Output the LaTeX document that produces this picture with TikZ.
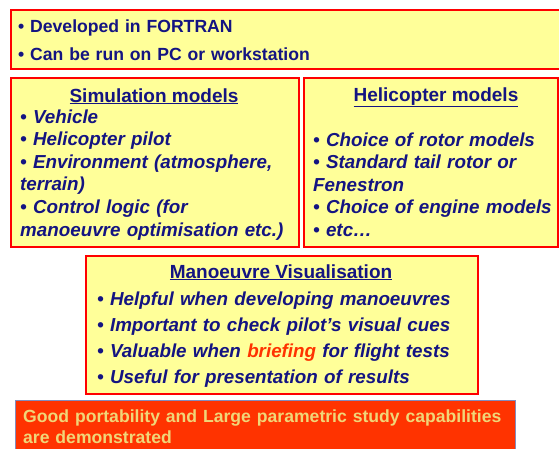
\documentclass[tikz,border=0pt]{standalone}
\usepackage{fontspec}
\setmainfont{Liberation Sans}
\usetikzlibrary{positioning}
\definecolor{navy}{RGB}{20,20,130}
\definecolor{paleyellow}{RGB}{255,255,153}
\definecolor{alertred}{RGB}{255,51,0}
\definecolor{sandtext}{RGB}{240,214,120}
\definecolor{bluegray}{RGB}{130,140,190}

\begin{document}
\begin{tikzpicture}[x=1pt,y=-1pt,
    panel/.style={draw=red,line width=1.5pt,fill=paleyellow,inner sep=0pt,anchor=north west},
    heading/.style={text=navy,anchor=base,inner sep=0pt,font=\bfseries\fontsize{19}{22}\selectfont},
    items/.style={text=navy,anchor=base west,inner sep=0pt,align=left,text width=290pt}]
  \useasboundingbox (0,0) rectangle (559,448);

  % boxes
  \node[panel,minimum width=560pt,minimum height=59pt] (general) at (10,9) {};
  \node[panel,minimum width=288pt,minimum height=169pt] (sim) at (10,77) {};
  \node[panel,minimum width=254pt,minimum height=169pt] (heli) at (303,77) {};
  \node[panel,minimum width=392pt,minimum height=138pt] (visu) at (85,255) {};
  \node[anchor=north west,fill=alertred,draw=bluegray,line width=0.6pt,inner sep=0pt,
        minimum width=500pt,minimum height=60pt] (result) at (15,400) {};

  % texts
  \node[items,font=\bfseries\fontsize{17.6}{28}\selectfont,text width=530pt] (generaltxt) at (18,32.5)
    {• Developed in FORTRAN\\• Can be run on PC or workstation};

  \node[heading] (simhead) at (154,102) {\underline{Simulation models}};
  \node[items,font=\bfseries\itshape\fontsize{18.8}{22.6}\selectfont] (simtxt) at (20,123)
    {• Vehicle\\• Helicopter pilot\\• Environment (atmosphere,\\terrain)\\• Control logic (for\\manoeuvre optimisation etc.)};

  \node[heading] (helihead) at (436,101) {\underline{Helicopter models}};
  \node[items,font=\bfseries\itshape\fontsize{18.8}{22.6}\selectfont,text width=250pt] (helitxt) at (313,146)
    {• Choice of rotor models\\• Standard tail rotor or\\Fenestron\\• Choice of engine models\\• etc…};

  \node[heading] (visuhead) at (281,278) {\underline{Manoeuvre Visualisation}};
  \node[items,font=\bfseries\itshape\fontsize{18.8}{26}\selectfont,text width=385pt] (visutxt) at (97,305)
    {• Helpful when developing manoeuvres\\• Important to check pilot’s visual cues\\
     • Valuable when {\color{alertred}briefing} for flight tests\\• Useful for presentation of results};

  \node[items,text=sandtext,font=\bfseries\fontsize{17.6}{21}\selectfont,text width=495pt] (resulttxt) at (23,422)
    {Good portability and Large parametric study capabilities\\are demonstrated};
\end{tikzpicture}
\end{document}
